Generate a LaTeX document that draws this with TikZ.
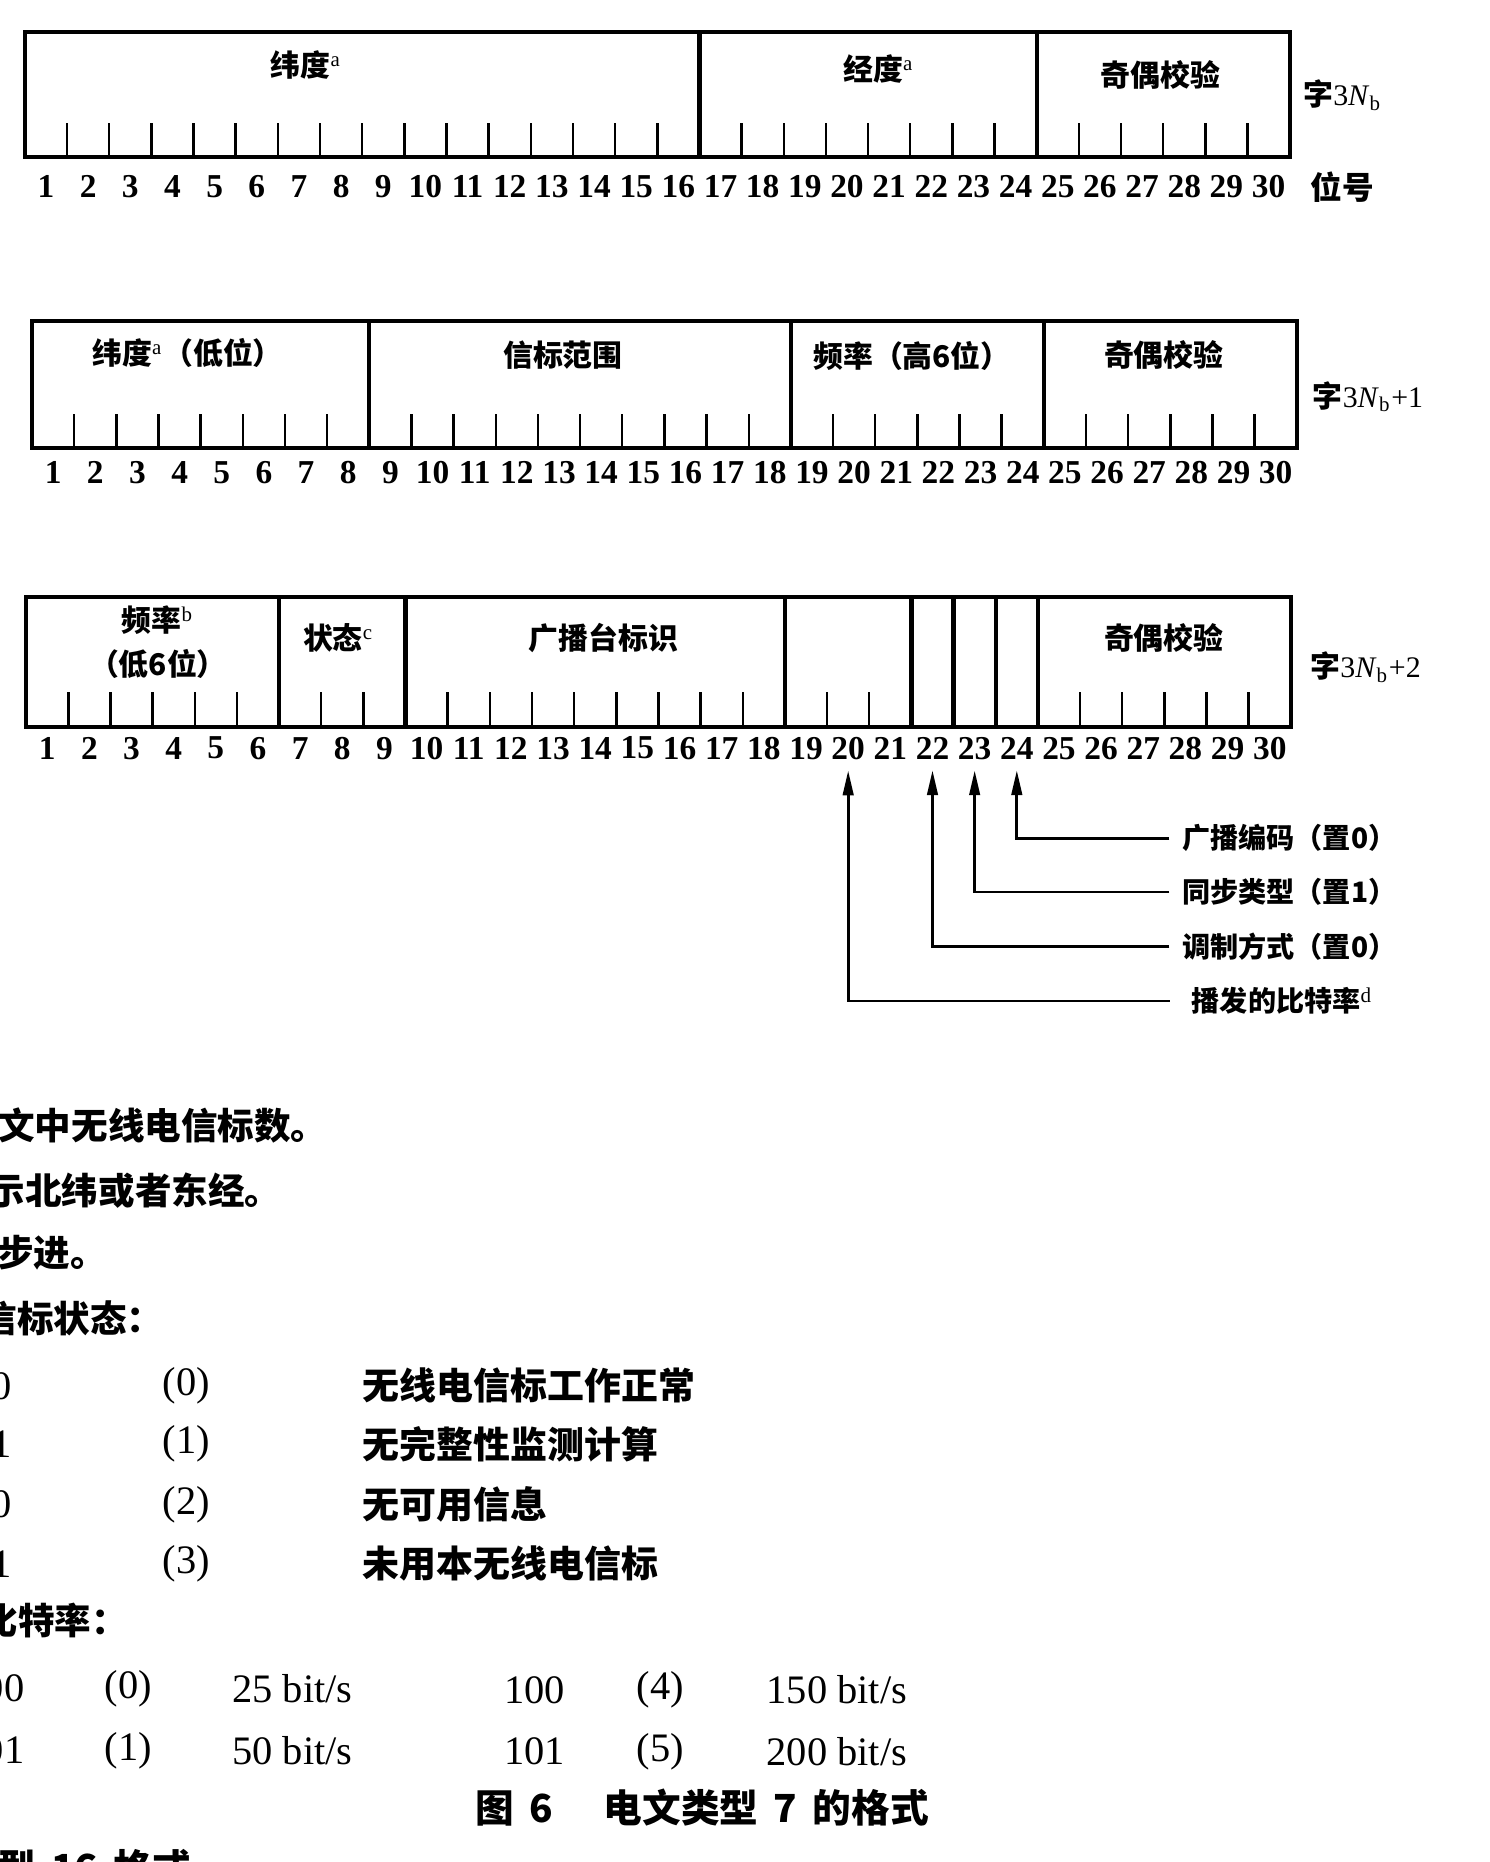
\documentclass[tikz,border=0pt]{standalone}
\usepackage{fontspec}
\setmainfont{Liberation Serif}
\newfontfamily\cjk{Noto Sans CJK SC}
\usetikzlibrary{arrows.meta}
\begin{document}
\begin{tikzpicture}[x=0.011874cm,y=-0.011874cm,
  boxline/.style={line width=1.2pt},
  tickline/.style={line width=0.7pt},
  bitnum/.style={font=\fontsize{9.5}{9.5}\selectfont\bfseries, inner sep=1pt},
  flabel/.style={font=\cjk\bfseries\fontsize{8.5}{12.5}\selectfont, inner sep=1pt, align=center},
  wordlbl/.style={font=\fontsize{8.5}{10}\selectfont, anchor=west, inner sep=0pt},
  arrlbl/.style={font=\cjk\bfseries\fontsize{8}{10}\selectfont, anchor=west, inner sep=0pt},
  arr/.style={line width=0.75pt, shorten <=3.5pt, shorten >=2pt, -{Triangle[length=7pt,width=3pt]}},
  note/.style={font=\cjk\bfseries\fontsize{10.4}{12}\selectfont, anchor=west, inner sep=0pt},
  tnote/.style={font=\cjk\bfseries\fontsize{10.5}{12}\selectfont, anchor=west, inner sep=0pt},
  num/.style={font=\fontsize{11.5}{13}\selectfont, inner sep=0pt},
  capt/.style={font=\cjk\bfseries\fontsize{11}{13}\selectfont, inner sep=0pt},
]
\useasboundingbox (0,0) rectangle (1254,1568);
\fill[white] (0,0) rectangle (1254,1568);
\clip (0,0) rectangle (1254,1568);

% ---------------- Row 1 ----------------
\def\L{21}\def\T{27}\def\B{132}
\draw[boxline] (\L,\T) rectangle ({\L+30*35.5},\B);
\foreach \k in {16,24} \draw[boxline] ({\L+\k*35.5},\T) -- ({\L+\k*35.5},\B);
\foreach \k in {1,...,15,17,18,...,23,25,26,...,29}
  \draw[tickline] ({\L+\k*35.5},\B) -- ({\L+\k*35.5},{\B-28});
\foreach \i in {1,...,30} \node[bitnum] (n1-\i) at ({\L+(\i-0.5)*35.5},157) {\i};
\node[flabel] (lat1) at (258,55) {纬度\textsuperscript{\normalfont a}};
\node[flabel] (lon1) at (740,58) {经度\textsuperscript{\normalfont a}};
\node[flabel] (par1) at (977,63) {奇偶校验};
\node[wordlbl] (w1) at (1097,80) {{\cjk\bfseries 字}3\textit{N}\textsubscript{b}};
\node[wordlbl,font=\cjk\bfseries\fontsize{9}{10}\selectfont] (pos) at (1103,158) {位号};

% ---------------- Row 2 ----------------
\def\L{27}\def\T{270}\def\B{377}
\draw[boxline] (\L,\T) rectangle ({\L+30*35.5},\B);
\foreach \k in {8,18,24} \draw[boxline] ({\L+\k*35.5},\T) -- ({\L+\k*35.5},\B);
\foreach \k in {1,...,7,9,10,...,17,19,20,...,23,25,26,...,29}
  \draw[tickline] ({\L+\k*35.5},\B) -- ({\L+\k*35.5},{\B-28});
\foreach \i in {1,...,30} \node[bitnum] (n2-\i) at ({\L+(\i-0.5)*35.5},398) {\i};
\node[flabel] (lat2) at (158,297) {纬度\textsuperscript{\normalfont a}（低位）};
\node[flabel] (rng2) at (474,299) {信标范围};
\node[flabel] (frq2) at (768,300) {频率（高6位）};
\node[flabel] (par2) at (980,299) {奇偶校验};
\node[wordlbl] (w2) at (1105,334) {{\cjk\bfseries 字}3\textit{N}\textsubscript{b}+1};

% ---------------- Row 3 ----------------
\def\L{22}\def\T{503}\def\B{612}
\draw[boxline] (\L,\T) rectangle ({\L+30*35.5},\B);
\foreach \k in {6,9,18,21,22,23,24} \draw[boxline] ({\L+\k*35.5},\T) -- ({\L+\k*35.5},\B);
\foreach \k in {1,...,5,7,8,10,11,...,17,19,20,25,26,...,29}
  \draw[tickline] ({\L+\k*35.5},\B) -- ({\L+\k*35.5},{\B-29});
\foreach \i in {1,...,30} \node[bitnum] (n3-\i) at ({\L+(\i-0.5)*35.5},630) {\i};
\node[flabel] (frq3) at (133,541) {频率\textsuperscript{\normalfont b}\\（低6位）};
\node[flabel] (sta3) at (285,537) {状态\textsuperscript{\normalfont c}};
\node[flabel] (bid3) at (508,537) {广播台标识};
\node[flabel] (par3) at (980,537) {奇偶校验};
\node[wordlbl] (w3) at (1103,562) {{\cjk\bfseries 字}3\textit{N}\textsubscript{b}+2};

% ---------------- Arrows ----------------
\node[arrlbl] (l24) at (995,706) {广播编码（置0）};
\node[arrlbl] (l23) at (995,751) {同步类型（置1）};
\node[arrlbl] (l22) at (995,797) {调制方式（置0）};
\node[arrlbl] (l20) at (1003,843) {播发的比特率\textsuperscript{\normalfont d}};
\draw[arr] (l24.west) -| (n3-24.south);
\draw[arr] (l23.west) -| (n3-23.south);
\draw[arr] (l22.west) -| (n3-22.south);
\draw[arr, shorten <=6pt] (l20.west) -| (n3-20.south);

% ---------------- Notes ----------------
\node[note] (t1) at (-2,948) {文中无线电信标数。};
\node[note] (t2) at (-10,1003) {示北纬或者东经。};
\node[note] (t3) at (-3,1055) {步进。};
\node[note] (t4) at (-17,1110) {信标状态：};

\foreach \y/\b/\c/\t [count=\j] in {1167/0/0/无线电信标工作正常,1216/1/1/无完整性监测计算,1267/0/2/无可用信息,1317/1/3/未用本无线电信标}{
  \node[num] (sb\j) at (1,\y) {\b};
  \node[num] (sc\j) at (157,\y) {(\c)};
  \node[tnote] (st\j) at (305,\y) {\t};
}
\node[note] (t5) at (-16,1365) {比特率：};

\node[num,anchor=east] (ra1) at (21,1422) {00};
\node[num] (rb1) at (108,1422) {(0)};
\node[num,anchor=west] (rc1) at (195,1422) {25 bit/s};
\node[num] (rd1) at (450,1423) {100};
\node[num] (re1) at (556,1423) {(4)};
\node[num,anchor=west] (rf1) at (645,1423) {150 bit/s};
\node[num,anchor=east] (ra2) at (21,1474) {01};
\node[num] (rb2) at (108,1474) {(1)};
\node[num,anchor=west] (rc2) at (195,1474) {50 bit/s};
\node[num] (rd2) at (450,1475) {101};
\node[num] (re2) at (556,1475) {(5)};
\node[num,anchor=west] (rf2) at (645,1475) {200 bit/s};

\node[capt,anchor=west] (cap) at (400,1522) {图\hspace{0.4em}6\hspace{1.3em}电文类型\hspace{0.4em}7\hspace{0.4em}的格式};
\node[capt,anchor=west] (nxt) at (-3,1573) {型\hspace{0.4em}16\hspace{0.4em}格式};
\end{tikzpicture}
\end{document}
